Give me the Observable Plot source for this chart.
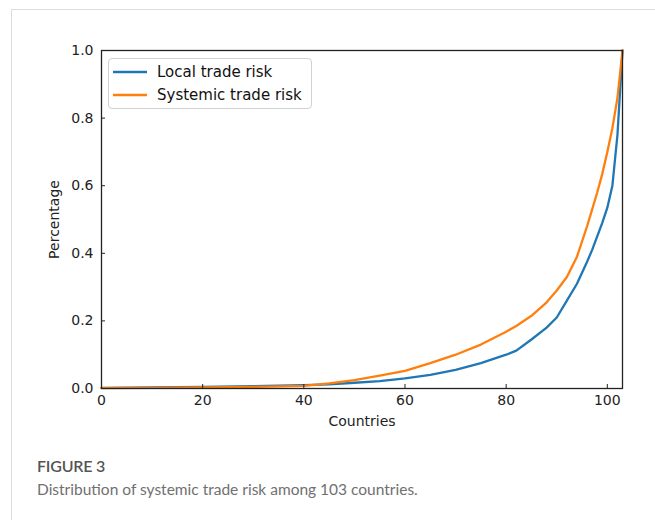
<!DOCTYPE html>
<html><head><meta charset="utf-8">
<script src="https://cdn.jsdelivr.net/npm/d3@7"></script>
<script src="https://cdn.jsdelivr.net/npm/@observablehq/plot@0.6"></script>
<style>
body{margin:0;background:#fff;}
#wrap{position:relative;width:655px;height:520px;overflow:hidden;font-family:"DejaVu Sans",sans-serif;}
#border{position:absolute;left:11px;top:9px;right:-2px;bottom:-2px;border-top:1px solid #dcdcdc;border-left:1px solid #dcdcdc;}
#chart{position:absolute;left:0;top:0;}
#legend{position:absolute;left:108px;top:58px;width:204px;height:51px;box-sizing:border-box;border:1px solid #d0d0d0;border-radius:4px;background:rgba(255,255,255,0.85);font-size:15px;color:#111;}
#legend .row{position:absolute;left:0;height:20px;width:100%;}
#legend svg{position:absolute;left:4px;top:0;}
#legend span{position:absolute;left:48px;top:1px;white-space:nowrap;}
#fig{position:absolute;left:37px;top:456px;font-family:Lato,"Open Sans",sans-serif;font-size:16px;color:#555;font-weight:600;letter-spacing:-0.2px;}
#cap{position:absolute;left:37px;top:480px;font-family:Lato,"Open Sans",sans-serif;font-size:15.5px;color:#707070;}
</style></head>
<body>
<div id="wrap">
<div id="border"></div>
<div id="chart"></div>
<div id="legend"></div>
<div id="fig">FIGURE 3</div>
<div id="cap">Distribution of systemic trade risk among 103 countries.</div>
</div>
<script>
const countries = [0,10,20,30,40,45,50,55,60,65,70,75,80,82,85,88,90,92,94,96,97,98,99,100,101,102,103];
const localRisk = [0.002,0.003,0.005,0.007,0.010,0.012,0.017,0.022,0.030,0.040,0.055,0.075,0.100,0.112,0.145,0.180,0.210,0.260,0.310,0.375,0.410,0.450,0.490,0.535,0.600,0.750,1.000];
const systemicRisk = [0.001,0.002,0.003,0.005,0.008,0.015,0.025,0.038,0.052,0.075,0.100,0.130,0.168,0.185,0.215,0.255,0.290,0.330,0.390,0.480,0.530,0.580,0.635,0.700,0.770,0.860,1.000];
const seriesNames = ["Local trade risk","Systemic trade risk"];
const seriesColors = ["#1f77b4","#ff7f0e"];
const xTicks = [0,20,40,60,80,100];
const yTicks = [0,0.2,0.4,0.6,0.8,1.0];

const data = countries.flatMap((c,i)=>[
  {x:c,y:localRisk[i],s:seriesNames[0]},
  {x:c,y:systemicRisk[i],s:seriesNames[1]}
]);

const chart = Plot.plot({
  width:655, height:440,
  marginLeft:101, marginRight:33, marginTop:50, marginBottom:52,
  style:{fontFamily:"DejaVu Sans, sans-serif", fontSize:"14px", color:"#222", background:"transparent"},
  x:{domain:[0,103]},
  y:{domain:[0,1]},
  color:{domain:seriesNames, range:seriesColors},
  marks:[
    Plot.line(data,{x:"x",y:"y",stroke:"s",strokeWidth:2.3,curve:"linear"}),
    Plot.frame({stroke:"#222", strokeWidth:1.3}),
    Plot.axisX(xTicks,{tickSize:-4, tickPadding:11, label:"Countries", labelArrow:"none", labelAnchor:"center", labelOffset:37, fontSize:14}),
    Plot.axisY(yTicks,{tickSize:-4, tickPadding:12, tickFormat:d3.format(".1f"), label:"Percentage", labelArrow:"none", labelAnchor:"center", labelOffset:52, fontSize:14})
  ]
});
document.getElementById("chart").appendChild(chart);

const lg = document.getElementById("legend");
seriesNames.forEach((n,i)=>{
  const row = document.createElement("div");
  row.className="row";
  row.style.top = (3 + i*23) + "px";
  row.innerHTML = `<svg width="36" height="20"><line x1="0" x2="34" y1="10" y2="10" stroke="${seriesColors[i]}" stroke-width="2.3"/></svg><span>${n}</span>`;
  lg.appendChild(row);
});
</script>
</body></html>
